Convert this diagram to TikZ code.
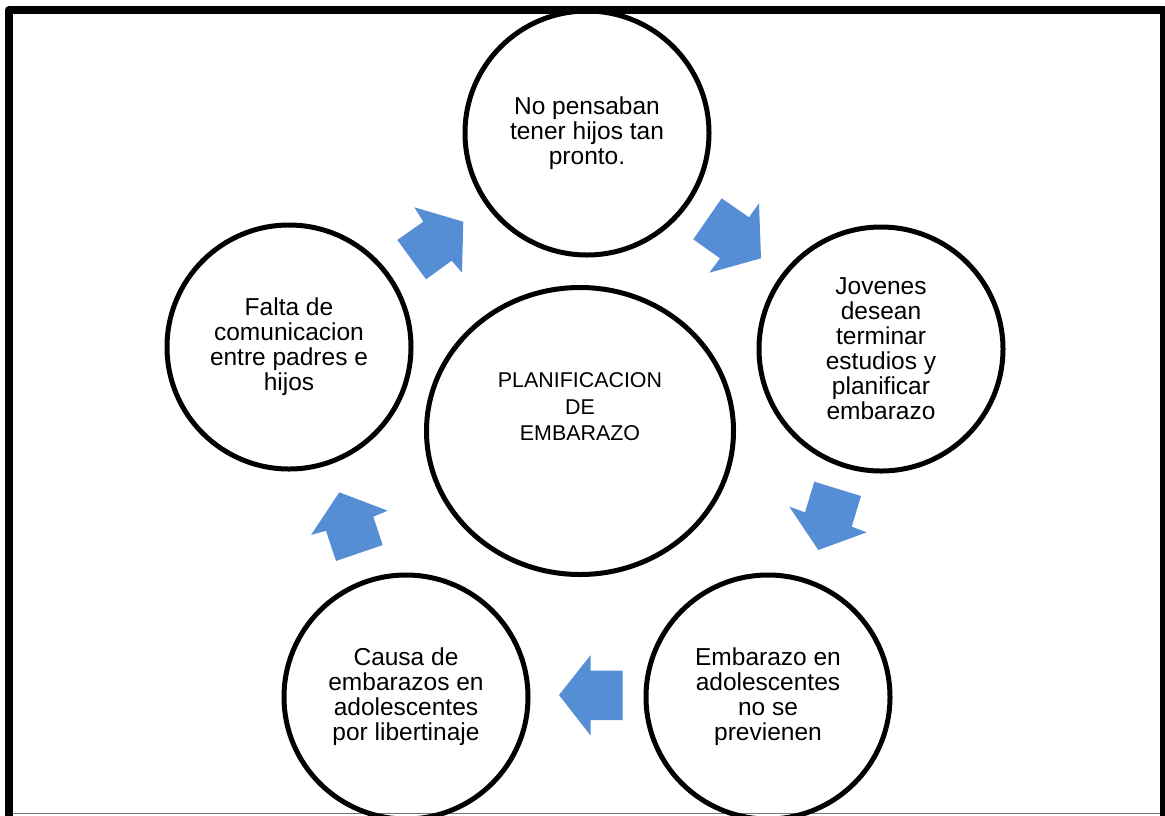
\documentclass[tikz,border=0pt]{standalone}
\usepackage{fontspec}
\setmainfont{Liberation Sans}
\usetikzlibrary{shapes.geometric}
\definecolor{arrowblue}{RGB}{86,142,213}
\begin{document}
\begin{tikzpicture}[x=1pt,y=-1pt,
  stage/.style={circle, draw=black, line width=5pt, minimum size=244pt,
    inner sep=0pt, align=center, font=\fontsize{24.5}{25}\selectfont},
  hub/.style={ellipse, draw=black, line width=5pt, minimum width=307pt,
    minimum height=287pt, inner sep=0pt},
  hubtext/.style={align=center, font=\fontsize{21.4}{26.6}\selectfont},
  blockarrow/.style={fill=arrowblue, draw=none}]
\clip (0,0) rectangle (1165,815);
\fill[white] (0,0) rectangle (1165,815);

% outer frame, open at the foot of the page
\draw[line width=8pt, line join=round] (9,840) -- (9,10) -- (1164,10) -- (1164,840);
\draw[black!55, line width=1.5pt] (13,813.5) -- (1160,813.5);

% central ellipse and its caption
\node[hub] (hub) at (580,431) {};
\node[hubtext] (hubcap) at (580,407) {PLANIFICACION\\DE\\EMBARAZO};

% the five stages of the cycle
\node[stage] (s1) at (587,133) {No pensaban\\tener hijos tan\\pronto.};
\node[stage] (s2) at (881,349) {Jovenes\\desean\\terminar\\estudios y\\planificar\\embarazo};
\node[stage] (s3) at (768,697) {Embarazo en\\adolescentes\\no se\\previenen};
\node[stage] (s4) at (406,697) {Causa de\\embarazos en\\adolescentes\\por libertinaje};
\node[stage] (s5) at (289,347) {Falta de\\comunicacion\\entre padres e\\hijos};

% block arrows running round the cycle
\fill[blockarrow] (397.3,240) -- (423.3,221.7) -- (414.3,207.3) -- (463.3,221.7)
  -- (462,272.7) -- (451.7,260.7) -- (426,279.3) -- cycle;
\fill[blockarrow] (721.7,198.3) -- (749,217.3) -- (759,203.3) -- (761,258.3)
  -- (709.3,272.7) -- (720,258.3) -- (693.3,239.3) -- cycle;
\fill[blockarrow] (814.3,481.7) -- (861,496) -- (851.7,526.7) -- (866.7,532.3)
  -- (818.3,550) -- (789.3,506.7) -- (805,512.3) -- cycle;
\fill[blockarrow] (622.7,670.7) -- (590.7,670.7) -- (590.7,655) -- (559,695)
  -- (590.7,735.7) -- (590.7,720) -- (622.7,720) -- cycle;
\fill[blockarrow] (339.3,492.3) -- (387.7,510.7) -- (373.3,516.7) -- (382.7,545)
  -- (336,561) -- (326,530.7) -- (311,535) -- cycle;
\end{tikzpicture}
\end{document}
